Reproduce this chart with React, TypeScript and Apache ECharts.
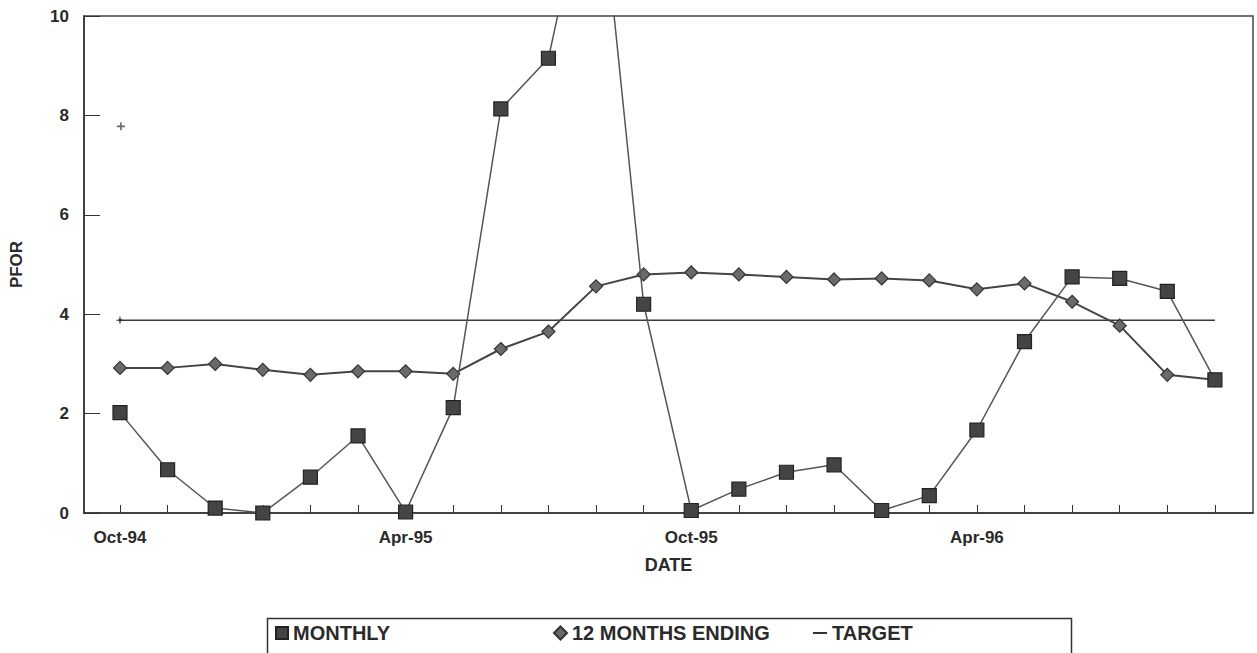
import React, { useEffect, useRef } from "react";
import * as echarts from "echarts";

const months = [
  "Oct-94", "Nov-94", "Dec-94", "Jan-95", "Feb-95", "Mar-95", "Apr-95", "May-95",
  "Jun-95", "Jul-95", "Aug-95", "Sep-95", "Oct-95", "Nov-95", "Dec-95", "Jan-96",
  "Feb-96", "Mar-96", "Apr-96", "May-96", "Jun-96", "Jul-96", "Aug-96", "Sep-96",
];
const labelledMonths = [0, 6, 12, 18];
const monthly = [
  2.02, 0.87, 0.1, 0.0, 0.72, 1.55, 0.02, 2.12, 8.13, 9.15, 13.55, 4.2,
  0.05, 0.48, 0.82, 0.97, 0.05, 0.35, 1.67, 3.45, 4.75, 4.72, 4.46, 2.68,
];
const twelveMonths = [
  2.92, 2.92, 3.0, 2.88, 2.78, 2.85, 2.85, 2.8, 3.3, 3.65, 4.56, 4.8,
  4.84, 4.8, 4.75, 4.7, 4.72, 4.68, 4.5, 4.62, 4.25, 3.77, 2.78, 2.68,
];
const target = 3.88;
const strayPoints = [[0.02, 7.78]];
const yTicks = [0, 2, 4, 6, 8, 10];

const FONT = "Liberation Sans, Arial, sans-serif";
const INK = "#2a2a2a";

export default function App() {
  const ref = useRef<HTMLDivElement>(null);
  useEffect(() => {
    if (!ref.current) return;
    const chart = echarts.init(ref.current, null, { renderer: "svg" });
    const tickIdx = months.map((_, i) => i);
    const legendText = { fontFamily: FONT, fontSize: 20, fontWeight: "bold", color: INK };
    chart.setOption({
      animation: false,
      backgroundColor: "#ffffff",
      textStyle: { fontFamily: FONT },
      grid: {
        left: 84,
        right: 4,
        top: 16,
        bottom: 140,
        show: true,
        borderColor: "#444",
        borderWidth: 1.5,
        containLabel: false,
      },
      xAxis: {
        type: "value",
        min: -0.756,
        max: 23.8,
        name: "DATE",
        nameLocation: "middle",
        nameGap: 43,
        nameTextStyle: { fontFamily: FONT, fontSize: 18, fontWeight: "bold", color: INK },
        splitLine: { show: false },
        axisLine: { show: true, onZero: false, lineStyle: { color: "#333", width: 1.5 } },
        axisTick: {
          show: true,
          inside: true,
          length: 8,
          customValues: tickIdx,
          lineStyle: { color: "#333", width: 1 },
        },
        axisLabel: {
          customValues: labelledMonths,
          formatter: (v: number) => months[Math.round(v)] ?? "",
          fontFamily: FONT,
          fontSize: 17,
          fontWeight: "bold",
          color: INK,
          margin: 16,
        },
      },
      yAxis: {
        type: "value",
        min: 0,
        max: 10,
        interval: 2,
        name: "PFOR",
        nameLocation: "middle",
        nameRotate: 90,
        nameGap: 59,
        nameTextStyle: { fontFamily: FONT, fontSize: 17, fontWeight: "bold", color: INK },
        splitLine: { show: false },
        axisLine: { show: true, onZero: false, lineStyle: { color: "#333", width: 1.5 } },
        axisTick: { show: true, inside: true, length: 16, lineStyle: { color: "#333", width: 1 } },
        axisLabel: {
          fontFamily: FONT,
          fontSize: 17,
          fontWeight: "bold",
          color: INK,
          margin: 15,
          formatter: (v: number) => (yTicks.includes(v) ? String(v) : ""),
        },
      },
      legend: [
        {
          data: [{ name: "MONTHLY", icon: "rect" }],
          left: 270,
          top: 618,
          itemWidth: 12,
          itemHeight: 12,
          textStyle: legendText,
        },
        {
          data: [{ name: "12 MONTHS ENDING", icon: "diamond" }],
          left: 548,
          top: 618,
          itemWidth: 13,
          itemHeight: 13,
          textStyle: legendText,
        },
        {
          data: [{ name: "TARGET", icon: "rect" }],
          left: 808,
          top: 618,
          itemWidth: 14,
          itemHeight: 2,
          textStyle: legendText,
        },
      ],
      graphic: [
        {
          type: "rect",
          left: 265,
          top: 616,
          shape: { width: 804, height: 50 },
          style: { fill: "none", stroke: "#333", lineWidth: 1.5 },
          silent: true,
        },
      ],
      series: [
        {
          name: "TARGET",
          type: "line",
          data: months.map((_, i) => ({
            value: [i, target],
            symbol: i === 0 ? "path://M5,0 L6,4 L10,5 L6,6 L5,10 L4,6 L0,5 L4,4 Z" : "none",
            symbolSize: 9,
          })),
          showSymbol: true,
          itemStyle: { color: "#333" },
          lineStyle: { color: "#3a3a3a", width: 1.5 },
          z: 2,
        },
        {
          name: "12 MONTHS ENDING",
          type: "line",
          data: twelveMonths.map((v, i) => [i, v]),
          symbol: "diamond",
          symbolSize: 13,
          itemStyle: { color: "#6a6a6a", borderColor: "#333", borderWidth: 1.2 },
          lineStyle: { color: "#444", width: 2 },
          z: 3,
        },
        {
          name: "MONTHLY",
          type: "line",
          data: monthly.map((v, i) => [i, v]),
          symbol: "rect",
          symbolSize: 14,
          itemStyle: { color: "#444", borderColor: "#222", borderWidth: 1.2 },
          lineStyle: { color: "#555", width: 1.5 },
          z: 4,
        },
        {
          name: "stray",
          type: "scatter",
          data: strayPoints,
          symbol: "path://M4,0 H6 V4 H10 V6 H6 V10 H4 V6 H0 V4 H4 Z",
          symbolSize: 8,
          itemStyle: { color: "#444" },
          z: 5,
        },
      ],
    });
    return () => chart.dispose();
  }, []);
  return (
    <div
      ref={ref}
      style={{ position: "fixed", left: 0, top: 0, width: 1257, height: 653 }}
    />
  );
}
